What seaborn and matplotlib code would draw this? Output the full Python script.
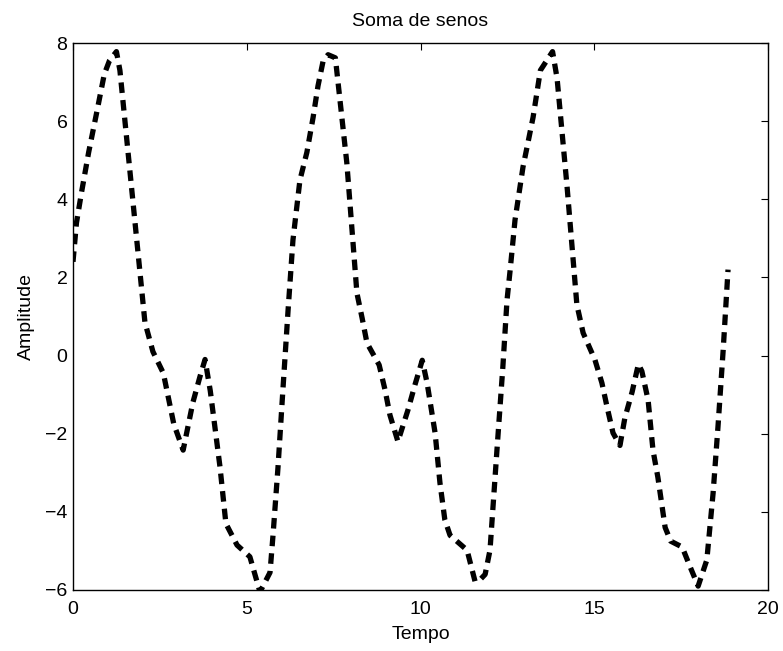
import matplotlib
matplotlib.use("Agg")
import matplotlib.pyplot as plt
import seaborn as sns
import pandas as pd

tempo = [0.00, 0.10, 0.25, 0.45, 0.70, 0.90, 1.05, 1.25, 1.35, 2.07, 2.30, 2.60, 2.90, 3.17,
         3.45, 3.65, 3.80, 3.95, 4.23, 4.40, 4.72, 5.09, 5.38, 5.67, 5.76, 5.90, 6.04, 6.19,
         6.33, 6.53, 6.73, 6.91, 7.05, 7.20, 7.34, 7.55, 7.88, 8.17, 8.32, 8.46, 8.81, 8.98,
         9.12, 9.35, 9.64, 9.84, 10.05, 10.19, 10.42, 10.56, 10.70, 10.85, 11.34, 11.57,
         11.70, 11.86, 12.00, 12.20, 12.37, 12.49, 12.58, 12.72, 12.95, 13.09, 13.24, 13.45,
         13.80, 13.93, 14.22, 14.50, 14.68, 15.02, 15.22, 15.37, 15.54, 15.74, 15.88, 16.09,
         16.27, 16.37, 16.55, 16.69, 16.83, 17.04, 17.20, 17.53, 17.76, 17.99, 18.24, 18.42,
         18.56, 18.71, 18.85]
amplitude = [2.40, 3.40, 4.20, 5.20, 6.30, 7.20, 7.55, 7.78, 7.30, 0.85, 0.10, -0.45, -1.75,
             -2.42, -1.20, -0.55, -0.10, -0.90, -2.85, -4.30, -4.85, -5.15, -6.05, -5.55,
             -4.55, -2.85, -0.88, 1.17, 2.96, 4.49, 5.20, 6.10, 6.90, 7.55, 7.70, 7.62,
             4.93, 1.60, 0.96, 0.32, -0.24, -0.88, -1.52, -2.20, -1.39, -0.75, -0.12, -0.70,
             -1.98, -3.26, -4.20, -4.60, -4.98, -5.78, -5.75, -5.60, -4.98, -2.42, -0.29,
             1.42, 2.19, 3.47, 4.83, 5.44, 6.10, 7.30, 7.78, 7.10, 4.30, 1.30, 0.58, -0.11,
             -0.70, -1.32, -1.98, -2.30, -1.60, -0.93, -0.22, -0.40, -1.14, -2.42, -3.11,
             -4.40, -4.75, -4.90, -5.41, -5.90, -5.23, -3.52, -1.83, 0.14, 2.20]

x_ticks = [0, 5, 10, 15, 20]
y_ticks = [-6, -4, -2, 0, 2, 4, 6, 8]

sns.set_style("white")
plt.rcParams['font.family'] = ['Liberation Sans', 'DejaVu Sans']
plt.rcParams['font.size'] = 14
plt.rcParams['text.color'] = 'black'
plt.rcParams['axes.labelcolor'] = 'black'

df = pd.DataFrame({"Tempo": tempo, "Amplitude": amplitude})

fig = plt.figure(figsize=(7.83, 6.51), dpi=100)
ax = fig.add_axes([73 / 783, (651 - 590) / 651, (768 - 73) / 783, (590 - 43) / 651])

sns.lineplot(data=df, x="Tempo", y="Amplitude", ax=ax, color="black",
             linewidth=3.8, sort=False, linestyle=(0, (2.0, 1.35)))
for ln in ax.lines:
    ln.set_dash_capstyle("butt")

ax.set_xlim(0, 20)
ax.set_ylim(-6, 8)
ax.set_xticks(x_ticks)
ax.set_yticks(y_ticks)
ax.tick_params(axis="both", direction="in", length=5, width=0.8, top=True, right=True,
               labelsize=14, colors="black")
ax.tick_params(axis="x", pad=8)
ax.tick_params(axis="y", pad=4)
for s in ax.spines.values():
    s.set_visible(True)
    s.set_color("black")
    s.set_linewidth(1.0)

ax.set_title("Soma de senos", fontsize=14, pad=12.5, color="black")
ax.set_xlabel("Tempo", fontsize=14, labelpad=6, color="black")
ax.set_ylabel("Amplitude", fontsize=14, labelpad=7, color="black")

fig.savefig("out.png", dpi=100, facecolor="white")
